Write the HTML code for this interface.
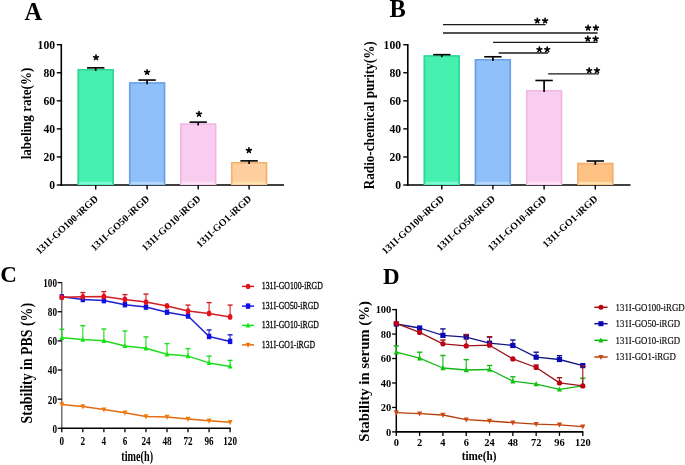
<!DOCTYPE html>
<html><head><meta charset="utf-8"><style>
html,body{margin:0;padding:0;background:#fff;overflow:hidden;}
svg{display:block;font-family:"Liberation Serif", serif;will-change:transform;}
</style></head><body>
<svg width="685" height="465" viewBox="0 0 685 465">
<rect width="685" height="465" fill="#fff"/>
<text x="24.5" y="19.7" font-size="24.5" font-weight="bold" text-anchor="start" fill="#000" >A</text>
<line x1="61.3" y1="43.95" x2="61.3" y2="185.75" stroke="#000" stroke-width="1.6"/>
<line x1="56.8" y1="185.0" x2="61.3" y2="185.0" stroke="#000" stroke-width="1.4"/>
<text x="55.0" y="189.0" font-size="11.6" font-weight="bold" text-anchor="end" fill="#000" >0</text>
<line x1="56.8" y1="156.94" x2="61.3" y2="156.94" stroke="#000" stroke-width="1.4"/>
<text x="55.0" y="160.94" font-size="11.6" font-weight="bold" text-anchor="end" fill="#000" >20</text>
<line x1="56.8" y1="128.88" x2="61.3" y2="128.88" stroke="#000" stroke-width="1.4"/>
<text x="55.0" y="132.88" font-size="11.6" font-weight="bold" text-anchor="end" fill="#000" >40</text>
<line x1="56.8" y1="100.82" x2="61.3" y2="100.82" stroke="#000" stroke-width="1.4"/>
<text x="55.0" y="104.82" font-size="11.6" font-weight="bold" text-anchor="end" fill="#000" >60</text>
<line x1="56.8" y1="72.75999999999999" x2="61.3" y2="72.75999999999999" stroke="#000" stroke-width="1.4"/>
<text x="55.0" y="76.75999999999999" font-size="11.6" font-weight="bold" text-anchor="end" fill="#000" >80</text>
<line x1="56.8" y1="44.69999999999999" x2="61.3" y2="44.69999999999999" stroke="#000" stroke-width="1.4"/>
<text x="55.0" y="48.69999999999999" font-size="11.6" font-weight="bold" text-anchor="end" fill="#000" >100</text>
<line x1="60.55" y1="185.0" x2="284.0" y2="185.0" stroke="#000" stroke-width="1.6"/>
<rect x="77.55" y="68.97" width="36.30" height="116.03" fill="#46F1B0"/>
<rect x="78.55" y="181.80" width="34.30" height="2.4" fill="#7CF8D2"/>
<path d="M78.35,184.20V69.77H113.05V184.20" fill="none" stroke="#30D592" stroke-width="1.6"/>
<line x1="95.7" y1="67.84949999999999" x2="95.7" y2="70.97189999999999" stroke="#000" stroke-width="1.7"/>
<line x1="87.0" y1="67.84949999999999" x2="104.4" y2="67.84949999999999" stroke="#000" stroke-width="1.6"/>
<line x1="95.7" y1="185.0" x2="95.7" y2="189.5" stroke="#000" stroke-width="1.4"/>
<rect x="128.95" y="82.16" width="36.30" height="102.84" fill="#90C0FA"/>
<rect x="129.95" y="181.80" width="34.30" height="2.4" fill="#B4D8FF"/>
<path d="M129.75,184.20V82.96H164.45V184.20" fill="none" stroke="#6C9EE4" stroke-width="1.6"/>
<line x1="147.1" y1="80.0556" x2="147.1" y2="84.1601" stroke="#000" stroke-width="1.7"/>
<line x1="138.4" y1="80.0556" x2="155.79999999999998" y2="80.0556" stroke="#000" stroke-width="1.6"/>
<line x1="147.1" y1="185.0" x2="147.1" y2="189.5" stroke="#000" stroke-width="1.4"/>
<rect x="180.05" y="123.41" width="36.30" height="61.59" fill="#F9CDEF"/>
<rect x="181.05" y="181.80" width="34.30" height="2.4" fill="#FDE2F8"/>
<path d="M180.85,184.20V124.21H215.55V184.20" fill="none" stroke="#EDB8E6" stroke-width="1.6"/>
<line x1="198.2" y1="122.1456" x2="198.2" y2="125.4083" stroke="#000" stroke-width="1.7"/>
<line x1="189.5" y1="122.1456" x2="206.89999999999998" y2="122.1456" stroke="#000" stroke-width="1.6"/>
<line x1="198.2" y1="185.0" x2="198.2" y2="189.5" stroke="#000" stroke-width="1.4"/>
<rect x="230.95" y="161.99" width="36.30" height="23.01" fill="#FECF9E"/>
<rect x="231.95" y="181.80" width="34.30" height="2.4" fill="#FFE2AE"/>
<path d="M231.75,184.20V162.79H266.45V184.20" fill="none" stroke="#F2B070" stroke-width="1.6"/>
<line x1="249.1" y1="160.8684" x2="249.1" y2="163.9908" stroke="#000" stroke-width="1.7"/>
<line x1="240.4" y1="160.8684" x2="257.8" y2="160.8684" stroke="#000" stroke-width="1.6"/>
<line x1="249.1" y1="185.0" x2="249.1" y2="189.5" stroke="#000" stroke-width="1.4"/>
<g transform="translate(30.7 113.5) rotate(-90) scale(0.87 1)"><text x="0" y="0" font-size="15" font-weight="bold" text-anchor="middle">labeling rate(%)</text></g>
<path d="M96.00,57.50L96.00,55.00M96.00,57.50L98.38,56.73M96.00,57.50L97.47,59.52M96.00,57.50L94.53,59.52M96.00,57.50L93.62,56.73" stroke="#000" stroke-width="1.6" stroke-linecap="round" fill="none"/>
<path d="M147.10,72.20L147.10,69.70M147.10,72.20L149.48,71.43M147.10,72.20L148.57,74.22M147.10,72.20L145.63,74.22M147.10,72.20L144.72,71.43" stroke="#000" stroke-width="1.6" stroke-linecap="round" fill="none"/>
<path d="M199.00,114.10L199.00,111.60M199.00,114.10L201.38,113.33M199.00,114.10L200.47,116.12M199.00,114.10L197.53,116.12M199.00,114.10L196.62,113.33" stroke="#000" stroke-width="1.6" stroke-linecap="round" fill="none"/>
<path d="M248.90,150.40L248.90,147.90M248.90,150.40L251.28,149.63M248.90,150.40L250.37,152.42M248.90,150.40L247.43,152.42M248.90,150.40L246.52,149.63" stroke="#000" stroke-width="1.6" stroke-linecap="round" fill="none"/>
<g transform="translate(98.7 199.5) rotate(-43)"><text x="0" y="0" font-size="10" font-weight="bold" text-anchor="end">131I-GO100-iRGD</text></g>
<g transform="translate(150.1 199.5) rotate(-43)"><text x="0" y="0" font-size="10" font-weight="bold" text-anchor="end">131I-GO50-iRGD</text></g>
<g transform="translate(201.2 199.5) rotate(-43)"><text x="0" y="0" font-size="10" font-weight="bold" text-anchor="end">131I-GO10-iRGD</text></g>
<g transform="translate(252.1 199.5) rotate(-43)"><text x="0" y="0" font-size="10" font-weight="bold" text-anchor="end">131I-GO1-iRGD</text></g>
<text x="389.5" y="17.1" font-size="24.5" font-weight="bold" text-anchor="start" fill="#000" >B</text>
<line x1="407.8" y1="43.95" x2="407.8" y2="185.75" stroke="#000" stroke-width="1.6"/>
<line x1="403.3" y1="185.0" x2="407.8" y2="185.0" stroke="#000" stroke-width="1.4"/>
<text x="401.0" y="189.0" font-size="11.6" font-weight="bold" text-anchor="end" fill="#000" >0</text>
<line x1="403.3" y1="156.94" x2="407.8" y2="156.94" stroke="#000" stroke-width="1.4"/>
<text x="401.0" y="160.94" font-size="11.6" font-weight="bold" text-anchor="end" fill="#000" >20</text>
<line x1="403.3" y1="128.88" x2="407.8" y2="128.88" stroke="#000" stroke-width="1.4"/>
<text x="401.0" y="132.88" font-size="11.6" font-weight="bold" text-anchor="end" fill="#000" >40</text>
<line x1="403.3" y1="100.82" x2="407.8" y2="100.82" stroke="#000" stroke-width="1.4"/>
<text x="401.0" y="104.82" font-size="11.6" font-weight="bold" text-anchor="end" fill="#000" >60</text>
<line x1="403.3" y1="72.75999999999999" x2="407.8" y2="72.75999999999999" stroke="#000" stroke-width="1.4"/>
<text x="401.0" y="76.75999999999999" font-size="11.6" font-weight="bold" text-anchor="end" fill="#000" >80</text>
<line x1="403.3" y1="44.69999999999999" x2="407.8" y2="44.69999999999999" stroke="#000" stroke-width="1.4"/>
<text x="401.0" y="48.69999999999999" font-size="11.6" font-weight="bold" text-anchor="end" fill="#000" >100</text>
<line x1="407.05" y1="185.0" x2="630.5" y2="185.0" stroke="#000" stroke-width="1.6"/>
<rect x="423.65" y="55.22" width="36.30" height="129.78" fill="#46F1B0"/>
<rect x="424.65" y="181.80" width="34.30" height="2.4" fill="#7CF8D2"/>
<path d="M424.45,184.20V56.02H459.15V184.20" fill="none" stroke="#30D592" stroke-width="1.6"/>
<line x1="441.8" y1="54.66129999999998" x2="441.8" y2="57.22249999999997" stroke="#000" stroke-width="1.7"/>
<line x1="433.1" y1="54.66129999999998" x2="450.5" y2="54.66129999999998" stroke="#000" stroke-width="1.6"/>
<line x1="441.8" y1="185.0" x2="441.8" y2="189.5" stroke="#000" stroke-width="1.4"/>
<rect x="474.75" y="59.01" width="36.30" height="125.99" fill="#90C0FA"/>
<rect x="475.75" y="181.80" width="34.30" height="2.4" fill="#B4D8FF"/>
<path d="M475.55,184.20V59.81H510.25V184.20" fill="none" stroke="#6C9EE4" stroke-width="1.6"/>
<line x1="492.9" y1="56.765799999999984" x2="492.9" y2="61.0106" stroke="#000" stroke-width="1.7"/>
<line x1="484.2" y1="56.765799999999984" x2="501.59999999999997" y2="56.765799999999984" stroke="#000" stroke-width="1.6"/>
<line x1="492.9" y1="185.0" x2="492.9" y2="189.5" stroke="#000" stroke-width="1.4"/>
<rect x="525.95" y="90.02" width="36.30" height="94.98" fill="#F9CDEF"/>
<rect x="526.95" y="181.80" width="34.30" height="2.4" fill="#FDE2F8"/>
<path d="M526.75,184.20V90.82H561.45V184.20" fill="none" stroke="#EDB8E6" stroke-width="1.6"/>
<line x1="544.1" y1="80.4765" x2="544.1" y2="92.01689999999999" stroke="#000" stroke-width="1.7"/>
<line x1="535.4" y1="80.4765" x2="552.8000000000001" y2="80.4765" stroke="#000" stroke-width="1.6"/>
<line x1="544.1" y1="185.0" x2="544.1" y2="189.5" stroke="#000" stroke-width="1.4"/>
<rect x="577.15" y="162.83" width="36.30" height="22.17" fill="#FDC184"/>
<rect x="578.15" y="181.80" width="34.30" height="2.4" fill="#FFE2AE"/>
<path d="M577.95,184.20V163.63H612.65V184.20" fill="none" stroke="#F2B070" stroke-width="1.6"/>
<line x1="595.3" y1="161.0087" x2="595.3" y2="164.8326" stroke="#000" stroke-width="1.7"/>
<line x1="586.5999999999999" y1="161.0087" x2="604.0" y2="161.0087" stroke="#000" stroke-width="1.6"/>
<line x1="595.3" y1="185.0" x2="595.3" y2="189.5" stroke="#000" stroke-width="1.4"/>
<g transform="translate(374.0 115.3) rotate(-90) scale(0.94 1)"><text x="0" y="0" font-size="14" font-weight="bold" text-anchor="middle">Radio-chemical purity(%)</text></g>
<g transform="translate(444.8 199.5) rotate(-43)"><text x="0" y="0" font-size="10" font-weight="bold" text-anchor="end">131I-GO100-iRGD</text></g>
<g transform="translate(495.9 199.5) rotate(-43)"><text x="0" y="0" font-size="10" font-weight="bold" text-anchor="end">131I-GO50-iRGD</text></g>
<g transform="translate(547.1 199.5) rotate(-43)"><text x="0" y="0" font-size="10" font-weight="bold" text-anchor="end">131I-GO10-iRGD</text></g>
<g transform="translate(598.3 199.5) rotate(-43)"><text x="0" y="0" font-size="10" font-weight="bold" text-anchor="end">131I-GO1-iRGD</text></g>
<path d="M537.30,20.70L537.30,18.20M537.30,20.70L539.68,19.93M537.30,20.70L538.77,22.72M537.30,20.70L535.83,22.72M537.30,20.70L534.92,19.93" stroke="#000" stroke-width="1.6" stroke-linecap="round" fill="none"/>
<path d="M545.10,20.70L545.10,18.20M545.10,20.70L547.48,19.93M545.10,20.70L546.57,22.72M545.10,20.70L543.63,22.72M545.10,20.70L542.72,19.93" stroke="#000" stroke-width="1.6" stroke-linecap="round" fill="none"/>
<line x1="443" y1="24.6" x2="545.6" y2="24.6" stroke="#1a1a1a" stroke-width="1.35"/>
<path d="M588.10,27.90L588.10,25.40M588.10,27.90L590.48,27.13M588.10,27.90L589.57,29.92M588.10,27.90L586.63,29.92M588.10,27.90L585.72,27.13" stroke="#000" stroke-width="1.6" stroke-linecap="round" fill="none"/>
<path d="M595.90,27.90L595.90,25.40M595.90,27.90L598.28,27.13M595.90,27.90L597.37,29.92M595.90,27.90L594.43,29.92M595.90,27.90L593.52,27.13" stroke="#000" stroke-width="1.6" stroke-linecap="round" fill="none"/>
<line x1="443" y1="33.0" x2="597.6" y2="33.0" stroke="#1a1a1a" stroke-width="1.35"/>
<path d="M587.80,38.90L587.80,36.40M587.80,38.90L590.18,38.13M587.80,38.90L589.27,40.92M587.80,38.90L586.33,40.92M587.80,38.90L585.42,38.13" stroke="#000" stroke-width="1.6" stroke-linecap="round" fill="none"/>
<path d="M595.60,38.90L595.60,36.40M595.60,38.90L597.98,38.13M595.60,38.90L597.07,40.92M595.60,38.90L594.13,40.92M595.60,38.90L593.22,38.13" stroke="#000" stroke-width="1.6" stroke-linecap="round" fill="none"/>
<line x1="493" y1="42.4" x2="597.4" y2="42.4" stroke="#1a1a1a" stroke-width="1.35"/>
<path d="M539.40,49.60L539.40,47.10M539.40,49.60L541.78,48.83M539.40,49.60L540.87,51.62M539.40,49.60L537.93,51.62M539.40,49.60L537.02,48.83" stroke="#000" stroke-width="1.6" stroke-linecap="round" fill="none"/>
<path d="M547.20,49.60L547.20,47.10M547.20,49.60L549.58,48.83M547.20,49.60L548.67,51.62M547.20,49.60L545.73,51.62M547.20,49.60L544.82,48.83" stroke="#000" stroke-width="1.6" stroke-linecap="round" fill="none"/>
<line x1="498.6" y1="53.0" x2="548.2" y2="53.0" stroke="#1a1a1a" stroke-width="1.35"/>
<path d="M589.20,70.50L589.20,68.00M589.20,70.50L591.58,69.73M589.20,70.50L590.67,72.52M589.20,70.50L587.73,72.52M589.20,70.50L586.82,69.73" stroke="#000" stroke-width="1.6" stroke-linecap="round" fill="none"/>
<path d="M597.00,70.50L597.00,68.00M597.00,70.50L599.38,69.73M597.00,70.50L598.47,72.52M597.00,70.50L595.53,72.52M597.00,70.50L594.62,69.73" stroke="#000" stroke-width="1.6" stroke-linecap="round" fill="none"/>
<line x1="548.2" y1="73.9" x2="598.8" y2="73.9" stroke="#1a1a1a" stroke-width="1.35"/>
<text x="0.2" y="281.6" font-size="23" font-weight="bold" text-anchor="start" fill="#000" >C</text>
<line x1="61.8" y1="282.0" x2="61.8" y2="428.3" stroke="#5a5a5a" stroke-width="1.3"/>
<line x1="57.599999999999994" y1="428.3" x2="61.8" y2="428.3" stroke="#000" stroke-width="1.3"/>
<g transform="translate(57.0 432.7) scale(0.745 1)"><text x="0" y="0" font-size="12.3" font-weight="bold" text-anchor="end" fill="#000" >0</text></g>
<line x1="57.599999999999994" y1="399.16" x2="61.8" y2="399.16" stroke="#000" stroke-width="1.3"/>
<g transform="translate(57.0 403.56) scale(0.745 1)"><text x="0" y="0" font-size="12.3" font-weight="bold" text-anchor="end" fill="#000" >20</text></g>
<line x1="57.599999999999994" y1="370.02000000000004" x2="61.8" y2="370.02000000000004" stroke="#000" stroke-width="1.3"/>
<g transform="translate(57.0 374.42) scale(0.745 1)"><text x="0" y="0" font-size="12.3" font-weight="bold" text-anchor="end" fill="#000" >40</text></g>
<line x1="57.599999999999994" y1="340.88" x2="61.8" y2="340.88" stroke="#000" stroke-width="1.3"/>
<g transform="translate(57.0 345.28) scale(0.745 1)"><text x="0" y="0" font-size="12.3" font-weight="bold" text-anchor="end" fill="#000" >60</text></g>
<line x1="57.599999999999994" y1="311.74" x2="61.8" y2="311.74" stroke="#000" stroke-width="1.3"/>
<g transform="translate(57.0 316.14) scale(0.745 1)"><text x="0" y="0" font-size="12.3" font-weight="bold" text-anchor="end" fill="#000" >80</text></g>
<line x1="57.599999999999994" y1="282.6" x2="61.8" y2="282.6" stroke="#000" stroke-width="1.3"/>
<g transform="translate(57.0 287.0) scale(0.745 1)"><text x="0" y="0" font-size="12.3" font-weight="bold" text-anchor="end" fill="#000" >100</text></g>
<line x1="61.199999999999996" y1="428.3" x2="230.72" y2="428.3" stroke="#000" stroke-width="1.5"/>
<line x1="61.8" y1="428.3" x2="61.8" y2="432.3" stroke="#000" stroke-width="1.3"/>
<g transform="translate(61.8 445.2) scale(0.745 1)"><text x="0" y="0" font-size="12.3" font-weight="bold" text-anchor="middle" fill="#000" >0</text></g>
<line x1="82.84" y1="428.3" x2="82.84" y2="432.3" stroke="#000" stroke-width="1.3"/>
<g transform="translate(82.84 445.2) scale(0.745 1)"><text x="0" y="0" font-size="12.3" font-weight="bold" text-anchor="middle" fill="#000" >2</text></g>
<line x1="103.88" y1="428.3" x2="103.88" y2="432.3" stroke="#000" stroke-width="1.3"/>
<g transform="translate(103.88 445.2) scale(0.745 1)"><text x="0" y="0" font-size="12.3" font-weight="bold" text-anchor="middle" fill="#000" >4</text></g>
<line x1="124.91999999999999" y1="428.3" x2="124.91999999999999" y2="432.3" stroke="#000" stroke-width="1.3"/>
<g transform="translate(124.91999999999999 445.2) scale(0.745 1)"><text x="0" y="0" font-size="12.3" font-weight="bold" text-anchor="middle" fill="#000" >6</text></g>
<line x1="145.95999999999998" y1="428.3" x2="145.95999999999998" y2="432.3" stroke="#000" stroke-width="1.3"/>
<g transform="translate(145.95999999999998 445.2) scale(0.745 1)"><text x="0" y="0" font-size="12.3" font-weight="bold" text-anchor="middle" fill="#000" >24</text></g>
<line x1="167.0" y1="428.3" x2="167.0" y2="432.3" stroke="#000" stroke-width="1.3"/>
<g transform="translate(167.0 445.2) scale(0.745 1)"><text x="0" y="0" font-size="12.3" font-weight="bold" text-anchor="middle" fill="#000" >48</text></g>
<line x1="188.04" y1="428.3" x2="188.04" y2="432.3" stroke="#000" stroke-width="1.3"/>
<g transform="translate(188.04 445.2) scale(0.745 1)"><text x="0" y="0" font-size="12.3" font-weight="bold" text-anchor="middle" fill="#000" >72</text></g>
<line x1="209.07999999999998" y1="428.3" x2="209.07999999999998" y2="432.3" stroke="#000" stroke-width="1.3"/>
<g transform="translate(209.07999999999998 445.2) scale(0.745 1)"><text x="0" y="0" font-size="12.3" font-weight="bold" text-anchor="middle" fill="#000" >96</text></g>
<line x1="230.12" y1="428.3" x2="230.12" y2="432.3" stroke="#000" stroke-width="1.3"/>
<g transform="translate(230.12 445.2) scale(0.745 1)"><text x="0" y="0" font-size="12.3" font-weight="bold" text-anchor="middle" fill="#000" >120</text></g>
<polyline points="61.8,404.4 82.8,406.4 103.9,409.6 124.9,412.8 146.0,416.4 167.0,417.0 188.0,419.0 209.1,420.7 230.1,422.2" fill="none" stroke="#E46C12" stroke-width="1.5" stroke-linejoin="round"/>
<polygon points="61.80,407.39 64.20,402.19 59.40,402.19" fill="#F47A04"/>
<polygon points="82.84,409.39 85.24,404.19 80.44,404.19" fill="#F47A04"/>
<polygon points="103.88,412.59 106.28,407.39 101.48,407.39" fill="#F47A04"/>
<polygon points="124.92,415.79 127.32,410.59 122.52,410.59" fill="#F47A04"/>
<polygon points="145.96,419.39 148.36,414.19 143.56,414.19" fill="#F47A04"/>
<polygon points="167.00,419.99 169.40,414.79 164.60,414.79" fill="#F47A04"/>
<polygon points="188.04,421.99 190.44,416.79 185.64,416.79" fill="#F47A04"/>
<polygon points="209.08,423.69 211.48,418.49 206.68,418.49" fill="#F47A04"/>
<polygon points="230.12,425.19 232.52,419.99 227.72,419.99" fill="#F47A04"/>
<polyline points="61.8,337.8 82.8,339.6 103.9,340.8 124.9,345.9 146.0,348.2 167.0,354.3 188.0,356.1 209.1,362.9 230.1,366.4" fill="none" stroke="#20DC20" stroke-width="1.5" stroke-linejoin="round"/>
<line x1="61.8" y1="337.8" x2="61.8" y2="329.3" stroke="#20DC20" stroke-width="1.1"/>
<line x1="59.3" y1="329.3" x2="64.3" y2="329.3" stroke="#20DC20" stroke-width="1.4"/>
<polygon points="61.80,334.81 64.20,340.01 59.40,340.01" fill="#10E810"/>
<line x1="82.84" y1="339.6" x2="82.84" y2="325.7" stroke="#20DC20" stroke-width="1.1"/>
<line x1="80.34" y1="325.7" x2="85.34" y2="325.7" stroke="#20DC20" stroke-width="1.4"/>
<polygon points="82.84,336.61 85.24,341.81 80.44,341.81" fill="#10E810"/>
<line x1="103.88" y1="340.8" x2="103.88" y2="329.0" stroke="#20DC20" stroke-width="1.1"/>
<line x1="101.38" y1="329.0" x2="106.38" y2="329.0" stroke="#20DC20" stroke-width="1.4"/>
<polygon points="103.88,337.81 106.28,343.01 101.48,343.01" fill="#10E810"/>
<line x1="124.91999999999999" y1="345.9" x2="124.91999999999999" y2="331.0" stroke="#20DC20" stroke-width="1.1"/>
<line x1="122.41999999999999" y1="331.0" x2="127.41999999999999" y2="331.0" stroke="#20DC20" stroke-width="1.4"/>
<polygon points="124.92,342.91 127.32,348.11 122.52,348.11" fill="#10E810"/>
<line x1="145.95999999999998" y1="348.2" x2="145.95999999999998" y2="336.9" stroke="#20DC20" stroke-width="1.1"/>
<line x1="143.45999999999998" y1="336.9" x2="148.45999999999998" y2="336.9" stroke="#20DC20" stroke-width="1.4"/>
<polygon points="145.96,345.21 148.36,350.41 143.56,350.41" fill="#10E810"/>
<line x1="167.0" y1="354.3" x2="167.0" y2="343.6" stroke="#20DC20" stroke-width="1.1"/>
<line x1="164.5" y1="343.6" x2="169.5" y2="343.6" stroke="#20DC20" stroke-width="1.4"/>
<polygon points="167.00,351.31 169.40,356.51 164.60,356.51" fill="#10E810"/>
<line x1="188.04" y1="356.1" x2="188.04" y2="348.6" stroke="#20DC20" stroke-width="1.1"/>
<line x1="185.54" y1="348.6" x2="190.54" y2="348.6" stroke="#20DC20" stroke-width="1.4"/>
<polygon points="188.04,353.11 190.44,358.31 185.64,358.31" fill="#10E810"/>
<line x1="209.07999999999998" y1="362.9" x2="209.07999999999998" y2="356.1" stroke="#20DC20" stroke-width="1.1"/>
<line x1="206.57999999999998" y1="356.1" x2="211.57999999999998" y2="356.1" stroke="#20DC20" stroke-width="1.4"/>
<polygon points="209.08,359.91 211.48,365.11 206.68,365.11" fill="#10E810"/>
<line x1="230.12" y1="366.4" x2="230.12" y2="360.4" stroke="#20DC20" stroke-width="1.1"/>
<line x1="227.62" y1="360.4" x2="232.62" y2="360.4" stroke="#20DC20" stroke-width="1.4"/>
<polygon points="230.12,363.41 232.52,368.61 227.72,368.61" fill="#10E810"/>
<polyline points="61.8,296.8 82.8,299.5 103.9,300.6 124.9,304.7 146.0,307.1 167.0,312.2 188.0,316.0 209.1,336.5 230.1,341.4" fill="none" stroke="#1E1ED4" stroke-width="1.5" stroke-linejoin="round"/>
<rect x="59.60" y="294.10" width="4.40" height="5.40" fill="#1010E4"/>
<rect x="80.64" y="296.80" width="4.40" height="5.40" fill="#1010E4"/>
<rect x="101.68" y="297.90" width="4.40" height="5.40" fill="#1010E4"/>
<rect x="122.72" y="302.00" width="4.40" height="5.40" fill="#1010E4"/>
<rect x="143.76" y="304.40" width="4.40" height="5.40" fill="#1010E4"/>
<rect x="164.80" y="309.50" width="4.40" height="5.40" fill="#1010E4"/>
<rect x="185.84" y="313.30" width="4.40" height="5.40" fill="#1010E4"/>
<line x1="209.07999999999998" y1="336.5" x2="209.07999999999998" y2="329.9" stroke="#1E1ED4" stroke-width="1.1"/>
<line x1="206.57999999999998" y1="329.9" x2="211.57999999999998" y2="329.9" stroke="#1E1ED4" stroke-width="1.4"/>
<rect x="206.88" y="333.80" width="4.40" height="5.40" fill="#1010E4"/>
<line x1="230.12" y1="341.4" x2="230.12" y2="334.8" stroke="#1E1ED4" stroke-width="1.1"/>
<line x1="227.62" y1="334.8" x2="232.62" y2="334.8" stroke="#1E1ED4" stroke-width="1.4"/>
<rect x="227.92" y="338.70" width="4.40" height="5.40" fill="#1010E4"/>
<polyline points="61.8,297.3 82.8,296.8 103.9,296.5 124.9,299.4 146.0,302.1 167.0,305.9 188.0,311.1 209.1,313.4 230.1,316.9" fill="none" stroke="#D41E26" stroke-width="1.5" stroke-linejoin="round"/>
<ellipse cx="61.80" cy="297.30" rx="2.3" ry="2.9" fill="#E4101A"/>
<line x1="82.84" y1="296.8" x2="82.84" y2="292.6" stroke="#D41E26" stroke-width="1.1"/>
<line x1="80.34" y1="292.6" x2="85.34" y2="292.6" stroke="#D41E26" stroke-width="1.4"/>
<ellipse cx="82.84" cy="296.80" rx="2.3" ry="2.9" fill="#E4101A"/>
<line x1="103.88" y1="296.5" x2="103.88" y2="291.6" stroke="#D41E26" stroke-width="1.1"/>
<line x1="101.38" y1="291.6" x2="106.38" y2="291.6" stroke="#D41E26" stroke-width="1.4"/>
<ellipse cx="103.88" cy="296.50" rx="2.3" ry="2.9" fill="#E4101A"/>
<line x1="124.91999999999999" y1="299.4" x2="124.91999999999999" y2="294.6" stroke="#D41E26" stroke-width="1.1"/>
<line x1="122.41999999999999" y1="294.6" x2="127.41999999999999" y2="294.6" stroke="#D41E26" stroke-width="1.4"/>
<ellipse cx="124.92" cy="299.40" rx="2.3" ry="2.9" fill="#E4101A"/>
<line x1="145.95999999999998" y1="302.1" x2="145.95999999999998" y2="294.1" stroke="#D41E26" stroke-width="1.1"/>
<line x1="143.45999999999998" y1="294.1" x2="148.45999999999998" y2="294.1" stroke="#D41E26" stroke-width="1.4"/>
<ellipse cx="145.96" cy="302.10" rx="2.3" ry="2.9" fill="#E4101A"/>
<ellipse cx="167.00" cy="305.90" rx="2.3" ry="2.9" fill="#E4101A"/>
<line x1="188.04" y1="311.1" x2="188.04" y2="305.1" stroke="#D41E26" stroke-width="1.1"/>
<line x1="185.54" y1="305.1" x2="190.54" y2="305.1" stroke="#D41E26" stroke-width="1.4"/>
<ellipse cx="188.04" cy="311.10" rx="2.3" ry="2.9" fill="#E4101A"/>
<line x1="209.07999999999998" y1="313.4" x2="209.07999999999998" y2="302.6" stroke="#D41E26" stroke-width="1.1"/>
<line x1="206.57999999999998" y1="302.6" x2="211.57999999999998" y2="302.6" stroke="#D41E26" stroke-width="1.4"/>
<ellipse cx="209.08" cy="313.40" rx="2.3" ry="2.9" fill="#E4101A"/>
<line x1="230.12" y1="316.9" x2="230.12" y2="305.1" stroke="#D41E26" stroke-width="1.1"/>
<line x1="227.62" y1="305.1" x2="232.62" y2="305.1" stroke="#D41E26" stroke-width="1.4"/>
<ellipse cx="230.12" cy="316.90" rx="2.3" ry="2.9" fill="#E4101A"/>
<line x1="242" y1="286.4" x2="254.1" y2="286.4" stroke="#D41E26" stroke-width="1.5"/>
<ellipse cx="248.05" cy="286.40" rx="2.3" ry="2.7" fill="#E4101A"/>
<g transform="translate(261.8 289.29999999999995) scale(0.722 1)"><text x="0" y="0" font-size="10.8" font-weight="normal" text-anchor="start" fill="#111" stroke="#111" stroke-width="0.35">131I-GO100-iRGD</text></g>
<line x1="242" y1="306.1" x2="254.1" y2="306.1" stroke="#1E1ED4" stroke-width="1.5"/>
<rect x="245.85" y="303.40" width="4.40" height="5.40" fill="#1010E4"/>
<g transform="translate(261.8 309.0) scale(0.722 1)"><text x="0" y="0" font-size="10.8" font-weight="normal" text-anchor="start" fill="#111" stroke="#111" stroke-width="0.35">131I-GO50-iRGD</text></g>
<line x1="242" y1="325.4" x2="254.1" y2="325.4" stroke="#20DC20" stroke-width="1.5"/>
<polygon points="248.05,322.41 250.45,327.61 245.65,327.61" fill="#10E810"/>
<g transform="translate(261.8 328.29999999999995) scale(0.722 1)"><text x="0" y="0" font-size="10.8" font-weight="normal" text-anchor="start" fill="#111" stroke="#111" stroke-width="0.35">131I-GO10-iRGD</text></g>
<line x1="242" y1="344.9" x2="254.1" y2="344.9" stroke="#E46C12" stroke-width="1.5"/>
<polygon points="248.05,347.89 250.45,342.69 245.65,342.69" fill="#F47A04"/>
<g transform="translate(261.8 347.79999999999995) scale(0.722 1)"><text x="0" y="0" font-size="10.8" font-weight="normal" text-anchor="start" fill="#111" stroke="#111" stroke-width="0.35">131I-GO1-iRGD</text></g>
<g transform="translate(32.3 363.2) rotate(-90) scale(0.84 1)"><text x="0" y="0" font-size="16.5" font-weight="bold" text-anchor="middle">Stability in PBS (%)</text></g>
<g transform="translate(137.2 461.3) scale(0.68 1)"><text x="0" y="0" font-size="15" font-weight="bold" text-anchor="middle" fill="#000" >time(h)</text></g>
<text x="383.0" y="283.5" font-size="23" font-weight="bold" text-anchor="start" fill="#000" >D</text>
<line x1="396.3" y1="309.0" x2="396.3" y2="431.9" stroke="#000" stroke-width="1.5"/>
<line x1="392.1" y1="431.9" x2="396.3" y2="431.9" stroke="#000" stroke-width="1.3"/>
<g transform="translate(391.3 435.7) scale(0.95 1)"><text x="0" y="0" font-size="11" font-weight="bold" text-anchor="end" fill="#000" >0</text></g>
<line x1="392.1" y1="407.44" x2="396.3" y2="407.44" stroke="#000" stroke-width="1.3"/>
<g transform="translate(391.3 411.24) scale(0.95 1)"><text x="0" y="0" font-size="11" font-weight="bold" text-anchor="end" fill="#000" >20</text></g>
<line x1="392.1" y1="382.98" x2="396.3" y2="382.98" stroke="#000" stroke-width="1.3"/>
<g transform="translate(391.3 386.78000000000003) scale(0.95 1)"><text x="0" y="0" font-size="11" font-weight="bold" text-anchor="end" fill="#000" >40</text></g>
<line x1="392.1" y1="358.52" x2="396.3" y2="358.52" stroke="#000" stroke-width="1.3"/>
<g transform="translate(391.3 362.32) scale(0.95 1)"><text x="0" y="0" font-size="11" font-weight="bold" text-anchor="end" fill="#000" >60</text></g>
<line x1="392.1" y1="334.06" x2="396.3" y2="334.06" stroke="#000" stroke-width="1.3"/>
<g transform="translate(391.3 337.86) scale(0.95 1)"><text x="0" y="0" font-size="11" font-weight="bold" text-anchor="end" fill="#000" >80</text></g>
<line x1="392.1" y1="309.6" x2="396.3" y2="309.6" stroke="#000" stroke-width="1.3"/>
<g transform="translate(391.3 313.40000000000003) scale(0.95 1)"><text x="0" y="0" font-size="11" font-weight="bold" text-anchor="end" fill="#000" >100</text></g>
<line x1="395.7" y1="431.9" x2="583.38" y2="431.9" stroke="#000" stroke-width="1.6"/>
<line x1="396.3" y1="431.9" x2="396.3" y2="435.9" stroke="#000" stroke-width="1.3"/>
<g transform="translate(396.3 446.4) scale(0.95 1)"><text x="0" y="0" font-size="11" font-weight="bold" text-anchor="middle" fill="#000" >0</text></g>
<line x1="419.61" y1="431.9" x2="419.61" y2="435.9" stroke="#000" stroke-width="1.3"/>
<g transform="translate(419.61 446.4) scale(0.95 1)"><text x="0" y="0" font-size="11" font-weight="bold" text-anchor="middle" fill="#000" >2</text></g>
<line x1="442.92" y1="431.9" x2="442.92" y2="435.9" stroke="#000" stroke-width="1.3"/>
<g transform="translate(442.92 446.4) scale(0.95 1)"><text x="0" y="0" font-size="11" font-weight="bold" text-anchor="middle" fill="#000" >4</text></g>
<line x1="466.23" y1="431.9" x2="466.23" y2="435.9" stroke="#000" stroke-width="1.3"/>
<g transform="translate(466.23 446.4) scale(0.95 1)"><text x="0" y="0" font-size="11" font-weight="bold" text-anchor="middle" fill="#000" >6</text></g>
<line x1="489.54" y1="431.9" x2="489.54" y2="435.9" stroke="#000" stroke-width="1.3"/>
<g transform="translate(489.54 446.4) scale(0.95 1)"><text x="0" y="0" font-size="11" font-weight="bold" text-anchor="middle" fill="#000" >24</text></g>
<line x1="512.85" y1="431.9" x2="512.85" y2="435.9" stroke="#000" stroke-width="1.3"/>
<g transform="translate(512.85 446.4) scale(0.95 1)"><text x="0" y="0" font-size="11" font-weight="bold" text-anchor="middle" fill="#000" >48</text></g>
<line x1="536.16" y1="431.9" x2="536.16" y2="435.9" stroke="#000" stroke-width="1.3"/>
<g transform="translate(536.16 446.4) scale(0.95 1)"><text x="0" y="0" font-size="11" font-weight="bold" text-anchor="middle" fill="#000" >72</text></g>
<line x1="559.47" y1="431.9" x2="559.47" y2="435.9" stroke="#000" stroke-width="1.3"/>
<g transform="translate(559.47 446.4) scale(0.95 1)"><text x="0" y="0" font-size="11" font-weight="bold" text-anchor="middle" fill="#000" >96</text></g>
<line x1="582.78" y1="431.9" x2="582.78" y2="435.9" stroke="#000" stroke-width="1.3"/>
<g transform="translate(582.78 446.4) scale(0.95 1)"><text x="0" y="0" font-size="11" font-weight="bold" text-anchor="middle" fill="#000" >120</text></g>
<polyline points="396.3,412.6 419.6,413.6 442.9,415.0 466.2,419.6 489.5,421.0 512.9,422.7 536.2,424.1 559.5,424.8 582.8,426.6" fill="none" stroke="#B8400F" stroke-width="1.3" stroke-linejoin="round"/>
<polygon points="396.30,415.59 398.90,410.39 393.70,410.39" fill="#D04810"/>
<polygon points="419.61,416.59 422.21,411.39 417.01,411.39" fill="#D04810"/>
<polygon points="442.92,417.99 445.52,412.79 440.32,412.79" fill="#D04810"/>
<polygon points="466.23,422.59 468.83,417.39 463.63,417.39" fill="#D04810"/>
<polygon points="489.54,423.99 492.14,418.79 486.94,418.79" fill="#D04810"/>
<polygon points="512.85,425.69 515.45,420.49 510.25,420.49" fill="#D04810"/>
<polygon points="536.16,427.09 538.76,421.89 533.56,421.89" fill="#D04810"/>
<polygon points="559.47,427.79 562.07,422.59 556.87,422.59" fill="#D04810"/>
<polygon points="582.78,429.59 585.38,424.39 580.18,424.39" fill="#D04810"/>
<polyline points="396.3,352.2 419.6,358.2 442.9,368.0 466.2,370.0 489.5,369.5 512.9,381.2 536.2,384.1 559.5,389.4 582.8,385.9" fill="none" stroke="#14B814" stroke-width="1.3" stroke-linejoin="round"/>
<line x1="396.3" y1="352.2" x2="396.3" y2="345.9" stroke="#14B814" stroke-width="1.1"/>
<line x1="393.6" y1="345.9" x2="399.0" y2="345.9" stroke="#14B814" stroke-width="1.4"/>
<polygon points="396.30,349.21 398.90,354.41 393.70,354.41" fill="#0CC40C"/>
<line x1="419.61" y1="358.2" x2="419.61" y2="352.2" stroke="#14B814" stroke-width="1.1"/>
<line x1="416.91" y1="352.2" x2="422.31" y2="352.2" stroke="#14B814" stroke-width="1.4"/>
<polygon points="419.61,355.21 422.21,360.41 417.01,360.41" fill="#0CC40C"/>
<line x1="442.92" y1="368.0" x2="442.92" y2="355.5" stroke="#14B814" stroke-width="1.1"/>
<line x1="440.22" y1="355.5" x2="445.62" y2="355.5" stroke="#14B814" stroke-width="1.4"/>
<polygon points="442.92,365.01 445.52,370.21 440.32,370.21" fill="#0CC40C"/>
<line x1="466.23" y1="370.0" x2="466.23" y2="359.6" stroke="#14B814" stroke-width="1.1"/>
<line x1="463.53000000000003" y1="359.6" x2="468.93" y2="359.6" stroke="#14B814" stroke-width="1.4"/>
<polygon points="466.23,367.01 468.83,372.21 463.63,372.21" fill="#0CC40C"/>
<line x1="489.54" y1="369.5" x2="489.54" y2="365.5" stroke="#14B814" stroke-width="1.1"/>
<line x1="486.84000000000003" y1="365.5" x2="492.24" y2="365.5" stroke="#14B814" stroke-width="1.4"/>
<polygon points="489.54,366.51 492.14,371.71 486.94,371.71" fill="#0CC40C"/>
<line x1="512.85" y1="381.2" x2="512.85" y2="376.8" stroke="#14B814" stroke-width="1.1"/>
<line x1="510.15000000000003" y1="376.8" x2="515.5500000000001" y2="376.8" stroke="#14B814" stroke-width="1.4"/>
<polygon points="512.85,378.21 515.45,383.41 510.25,383.41" fill="#0CC40C"/>
<polygon points="536.16,381.11 538.76,386.31 533.56,386.31" fill="#0CC40C"/>
<polygon points="559.47,386.41 562.07,391.61 556.87,391.61" fill="#0CC40C"/>
<line x1="582.78" y1="385.9" x2="582.78" y2="378.2" stroke="#14B814" stroke-width="1.1"/>
<line x1="580.0799999999999" y1="378.2" x2="585.48" y2="378.2" stroke="#14B814" stroke-width="1.4"/>
<polygon points="582.78,382.91 585.38,388.11 580.18,388.11" fill="#0CC40C"/>
<polyline points="396.3,324.0 419.6,328.0 442.9,335.4 466.2,337.1 489.5,343.2 512.9,345.5 536.2,357.2 559.5,359.5 582.8,365.6" fill="none" stroke="#141484" stroke-width="1.3" stroke-linejoin="round"/>
<rect x="393.70" y="321.40" width="5.20" height="5.20" fill="#0808B8"/>
<rect x="417.01" y="325.40" width="5.20" height="5.20" fill="#0808B8"/>
<line x1="442.92" y1="335.4" x2="442.92" y2="328.9" stroke="#141484" stroke-width="1.1"/>
<line x1="440.22" y1="328.9" x2="445.62" y2="328.9" stroke="#141484" stroke-width="1.4"/>
<rect x="440.32" y="332.80" width="5.20" height="5.20" fill="#0808B8"/>
<line x1="466.23" y1="337.1" x2="466.23" y2="335.0" stroke="#141484" stroke-width="1.1"/>
<line x1="463.53000000000003" y1="335.0" x2="468.93" y2="335.0" stroke="#141484" stroke-width="1.4"/>
<rect x="463.63" y="334.50" width="5.20" height="5.20" fill="#0808B8"/>
<line x1="489.54" y1="343.2" x2="489.54" y2="337.0" stroke="#141484" stroke-width="1.1"/>
<line x1="486.84000000000003" y1="337.0" x2="492.24" y2="337.0" stroke="#141484" stroke-width="1.4"/>
<rect x="486.94" y="340.60" width="5.20" height="5.20" fill="#0808B8"/>
<line x1="512.85" y1="345.5" x2="512.85" y2="340.0" stroke="#141484" stroke-width="1.1"/>
<line x1="510.15000000000003" y1="340.0" x2="515.5500000000001" y2="340.0" stroke="#141484" stroke-width="1.4"/>
<rect x="510.25" y="342.90" width="5.20" height="5.20" fill="#0808B8"/>
<line x1="536.16" y1="357.2" x2="536.16" y2="352.2" stroke="#141484" stroke-width="1.1"/>
<line x1="533.4599999999999" y1="352.2" x2="538.86" y2="352.2" stroke="#141484" stroke-width="1.4"/>
<rect x="533.56" y="354.60" width="5.20" height="5.20" fill="#0808B8"/>
<line x1="559.47" y1="359.5" x2="559.47" y2="355.7" stroke="#141484" stroke-width="1.1"/>
<line x1="556.77" y1="355.7" x2="562.1700000000001" y2="355.7" stroke="#141484" stroke-width="1.4"/>
<rect x="556.87" y="356.90" width="5.20" height="5.20" fill="#0808B8"/>
<rect x="580.18" y="363.00" width="5.20" height="5.20" fill="#0808B8"/>
<polyline points="396.3,323.3 419.6,332.4 442.9,343.8 466.2,345.9 489.5,345.2 512.9,358.9 536.2,367.5 559.5,382.9 582.8,385.9" fill="none" stroke="#9C1418" stroke-width="1.3" stroke-linejoin="round"/>
<ellipse cx="396.30" cy="323.30" rx="2.6" ry="2.6" fill="#C0000E"/>
<ellipse cx="419.61" cy="332.40" rx="2.6" ry="2.6" fill="#C0000E"/>
<line x1="442.92" y1="343.8" x2="442.92" y2="340.0" stroke="#9C1418" stroke-width="1.1"/>
<line x1="440.22" y1="340.0" x2="445.62" y2="340.0" stroke="#9C1418" stroke-width="1.4"/>
<ellipse cx="442.92" cy="343.80" rx="2.6" ry="2.6" fill="#C0000E"/>
<line x1="466.23" y1="345.9" x2="466.23" y2="334.5" stroke="#9C1418" stroke-width="1.1"/>
<line x1="463.53000000000003" y1="334.5" x2="468.93" y2="334.5" stroke="#9C1418" stroke-width="1.4"/>
<ellipse cx="466.23" cy="345.90" rx="2.6" ry="2.6" fill="#C0000E"/>
<line x1="489.54" y1="345.2" x2="489.54" y2="336.8" stroke="#9C1418" stroke-width="1.1"/>
<line x1="486.84000000000003" y1="336.8" x2="492.24" y2="336.8" stroke="#9C1418" stroke-width="1.4"/>
<ellipse cx="489.54" cy="345.20" rx="2.6" ry="2.6" fill="#C0000E"/>
<ellipse cx="512.85" cy="358.90" rx="2.6" ry="2.6" fill="#C0000E"/>
<line x1="536.16" y1="367.5" x2="536.16" y2="365.0" stroke="#9C1418" stroke-width="1.1"/>
<line x1="533.4599999999999" y1="365.0" x2="538.86" y2="365.0" stroke="#9C1418" stroke-width="1.4"/>
<ellipse cx="536.16" cy="367.50" rx="2.6" ry="2.6" fill="#C0000E"/>
<line x1="559.47" y1="382.9" x2="559.47" y2="377.7" stroke="#9C1418" stroke-width="1.1"/>
<line x1="556.77" y1="377.7" x2="562.1700000000001" y2="377.7" stroke="#9C1418" stroke-width="1.4"/>
<ellipse cx="559.47" cy="382.90" rx="2.6" ry="2.6" fill="#C0000E"/>
<line x1="582.78" y1="385.9" x2="582.78" y2="366.0" stroke="#9C1418" stroke-width="1.1"/>
<line x1="580.0799999999999" y1="366.0" x2="585.48" y2="366.0" stroke="#9C1418" stroke-width="1.4"/>
<ellipse cx="582.78" cy="385.90" rx="2.6" ry="2.6" fill="#C0000E"/>
<line x1="594.3" y1="307.3" x2="607.6" y2="307.3" stroke="#9C1418" stroke-width="1.5"/>
<ellipse cx="600.95" cy="307.30" rx="2.5" ry="2.5" fill="#C0000E"/>
<g transform="translate(615.6 310.5) scale(0.84 1)"><text x="0" y="0" font-size="10.5" font-weight="normal" text-anchor="start" fill="#111" stroke="#111" stroke-width="0.2">131I-GO100-iRGD</text></g>
<line x1="594.3" y1="323.7" x2="607.6" y2="323.7" stroke="#141484" stroke-width="1.5"/>
<rect x="598.45" y="321.20" width="5.00" height="5.00" fill="#0808B8"/>
<g transform="translate(615.6 326.9) scale(0.84 1)"><text x="0" y="0" font-size="10.5" font-weight="normal" text-anchor="start" fill="#111" stroke="#111" stroke-width="0.2">131I-GO50-iRGD</text></g>
<line x1="594.3" y1="340.3" x2="607.6" y2="340.3" stroke="#14B814" stroke-width="1.5"/>
<polygon points="600.95,337.43 603.45,342.43 598.45,342.43" fill="#0CC40C"/>
<g transform="translate(615.6 343.5) scale(0.84 1)"><text x="0" y="0" font-size="10.5" font-weight="normal" text-anchor="start" fill="#111" stroke="#111" stroke-width="0.2">131I-GO10-iRGD</text></g>
<line x1="594.3" y1="357.0" x2="607.6" y2="357.0" stroke="#B8400F" stroke-width="1.5"/>
<polygon points="600.95,359.88 603.45,354.88 598.45,354.88" fill="#D04810"/>
<g transform="translate(615.6 360.2) scale(0.84 1)"><text x="0" y="0" font-size="10.5" font-weight="normal" text-anchor="start" fill="#111" stroke="#111" stroke-width="0.2">131I-GO1-iRGD</text></g>
<g transform="translate(368.8 371.4) rotate(-90) scale(1.02 1)"><text x="0" y="0" font-size="14.5" font-weight="bold" text-anchor="middle">Stability in serum (%)</text></g>
<g transform="translate(479.1 459.8) scale(0.83 1)"><text x="0" y="0" font-size="13.5" font-weight="bold" text-anchor="middle" fill="#000" >time(h)</text></g>
</svg>
</body></html>
